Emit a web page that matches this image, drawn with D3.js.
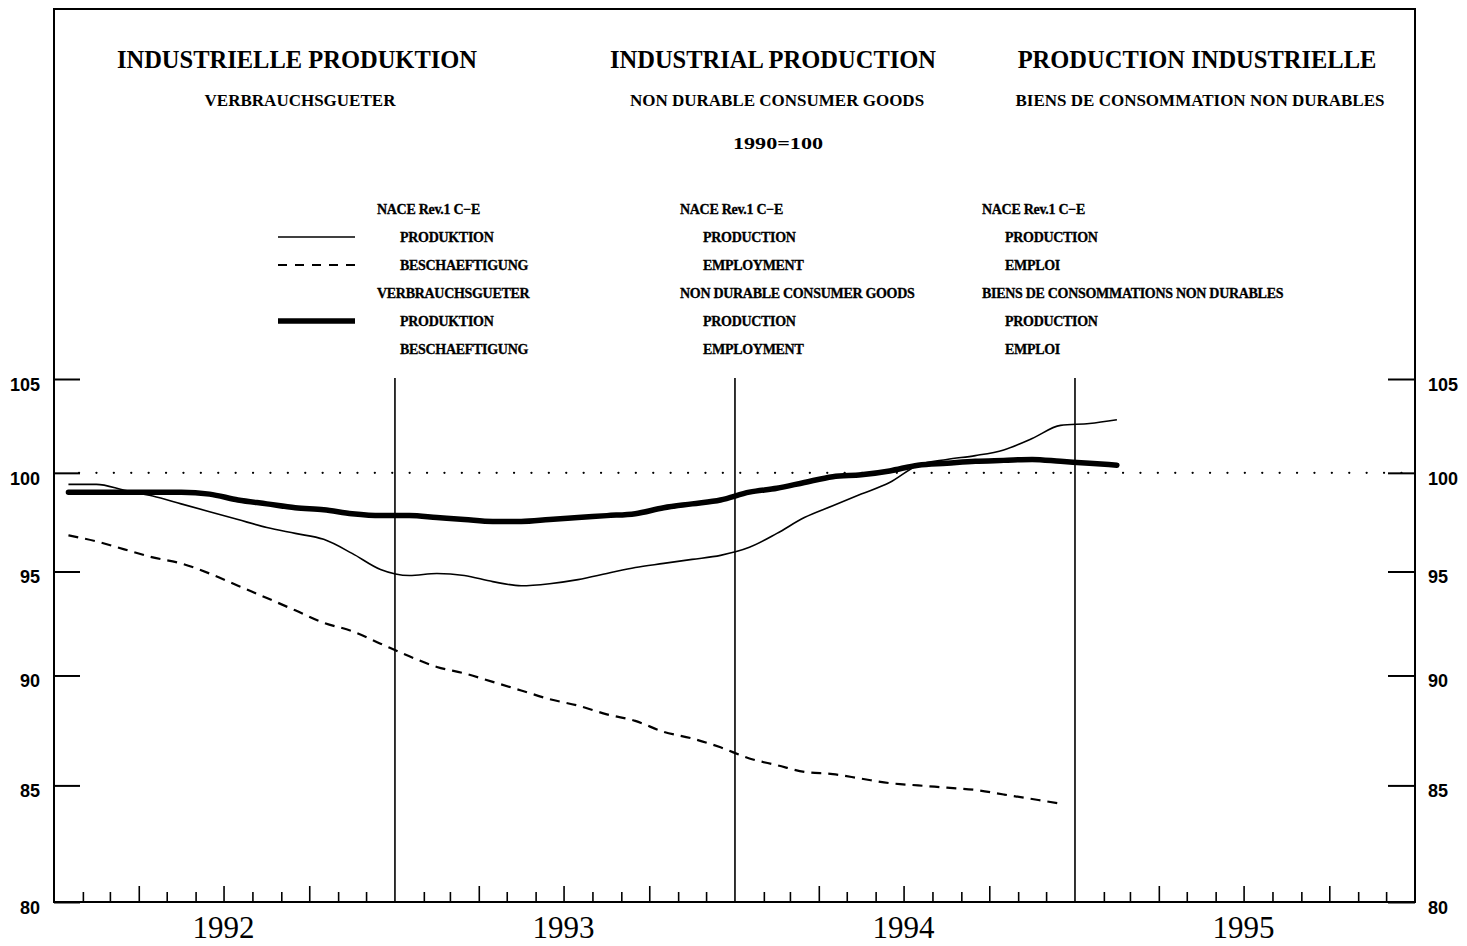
<!DOCTYPE html>
<html>
<head>
<meta charset="utf-8">
<script src="https://cdn.jsdelivr.net/npm/d3@7"></script>
<style>
  html, body { margin: 0; padding: 0; background: #fff; }
  svg { display: block; }
</style>
</head>
<body>
<svg id="chart" width="1467" height="946"></svg>
<script>
// ---------------- DATA ----------------
const startMonth = "1992-01";          // first observation (monthly data)
const years = [1992, 1993, 1994, 1995];
const yTicks = [80, 85, 90, 95, 100, 105];

// NACE Rev.1 C-E production (thin solid), Jan 1992 - Feb 1995
const naceProduction = [99.4, 99.4, 99.1, 98.8, 98.4, 98.0, 97.6, 97.2, 96.9, 96.6, 95.9, 95.1,
  94.8, 94.9, 94.8, 94.5, 94.3, 94.4, 94.6, 94.9, 95.2, 95.4, 95.6, 95.8,
  96.2, 96.9, 97.7, 98.3, 98.9, 99.5, 100.4, 100.7, 100.9, 101.2, 101.8, 102.5,
  102.6, 102.8];

// NACE Rev.1 C-E employment (dashed), Jan 1992 - Dec 1994
const naceEmployment = [96.8, 96.5, 96.1, 95.7, 95.4, 94.9, 94.3, 93.7, 93.1, 92.5, 92.1, 91.5,
  90.9, 90.4, 90.1, 89.7, 89.3, 88.9, 88.6, 88.2, 87.9, 87.4, 87.1, 86.7,
  86.2, 85.9, 85.6, 85.5, 85.3, 85.1, 85.0, 84.9, 84.8, 84.6, 84.4, 84.2];

// Non durable consumer goods production (thick solid), Jan 1992 - Feb 1995
const consumerProduction = [99.0, 99.0, 99.0, 99.0, 99.0, 98.9, 98.6, 98.4, 98.2, 98.1, 97.9, 97.8,
  97.8, 97.7, 97.6, 97.5, 97.5, 97.6, 97.7, 97.8, 97.9, 98.2, 98.4, 98.6,
  99.0, 99.2, 99.5, 99.8, 99.9, 100.1, 100.4, 100.5, 100.6, 100.65, 100.7, 100.6,
  100.5, 100.4];

const titles = ["INDUSTRIELLE PRODUKTION", "INDUSTRIAL PRODUCTION", "PRODUCTION INDUSTRIELLE"];
const subtitles = ["VERBRAUCHSGUETER", "NON DURABLE CONSUMER GOODS", "BIENS DE CONSOMMATION NON DURABLES"];
const baseLabel = "1990=100";

const legendDE = ["NACE Rev.1 C\u2212E", "PRODUKTION", "BESCHAEFTIGUNG", "VERBRAUCHSGUETER", "PRODUKTION", "BESCHAEFTIGUNG"];
const legendEN = ["NACE Rev.1 C\u2212E", "PRODUCTION", "EMPLOYMENT", "NON DURABLE CONSUMER GOODS", "PRODUCTION", "EMPLOYMENT"];
const legendFR = ["NACE Rev.1 C\u2212E", "PRODUCTION", "EMPLOI", "BIENS DE CONSOMMATIONS NON DURABLES", "PRODUCTION", "EMPLOI"];
const legendIndent = [false, true, true, false, true, true];
const legendSamples = [null, "thin", "dashed", null, "thick", null];

// ---------------- LAYOUT ----------------
const svg = d3.select("#chart");
const L = 54, R = 1415, T = 9, B = 902;

const parseM = d3.timeParse("%Y-%m");
const t0 = parseM(startMonth);
const dateAt = i => {
  const m0 = d3.timeMonth.offset(t0, i);
  const m1 = d3.timeMonth.offset(t0, i + 1);
  return new Date((m0.getTime() + m1.getTime()) / 2);
};

const x = d3.scaleTime()
  .domain([new Date(years[0], 0, 1), new Date(years[years.length - 1] + 1, 0, 1)])
  .range([L, R]);
const y = d3.scaleLog().domain([80, 105]).range([B, 379]);

const serif = "'Liberation Serif', 'DejaVu Serif', serif";
const sans = "'Liberation Sans', Arial, sans-serif";

// Frame
svg.append("rect")
  .attr("x", L).attr("y", T).attr("width", R - L).attr("height", B - T)
  .attr("fill", "none").attr("stroke", "#000").attr("stroke-width", 2);

// Titles
const titleX = [297, 773, 1197];
svg.append("g").selectAll("text").data(titles).join("text")
  .attr("x", (d, i) => titleX[i]).attr("y", 68)
  .attr("text-anchor", "middle")
  .attr("font-family", serif).attr("font-weight", "bold").attr("font-size", 24.5)
  .text(d => d);

const subX = [300, 777, 1200];
svg.append("g").selectAll("text").data(subtitles).join("text")
  .attr("x", (d, i) => subX[i]).attr("y", 106)
  .attr("text-anchor", "middle")
  .attr("font-family", serif).attr("font-weight", "bold").attr("font-size", 17)
  .text(d => d);

svg.append("text").attr("x", 778).attr("y", 149).attr("text-anchor", "middle")
  .attr("font-family", serif).attr("font-weight", "bold").attr("font-size", 17)
  .attr("textLength", 90).attr("lengthAdjust", "spacingAndGlyphs")
  .text(baseLabel);

// Legend
const legRowY = [214, 242, 270, 298, 326, 354];
const legCols = [{x: 377, data: legendDE}, {x: 680, data: legendEN}, {x: 982, data: legendFR}];
const lg = svg.append("g");
legCols.forEach(col => {
  lg.append("g").selectAll("text").data(col.data).join("text")
    .attr("x", (d, i) => col.x + (legendIndent[i] ? 23 : 0))
    .attr("y", (d, i) => legRowY[i])
    .attr("font-family", serif).attr("font-weight", "bold").attr("font-size", 14)
    .attr("letter-spacing", -0.3)
    .attr("stroke", "#000").attr("stroke-width", 0.3)
    .text(d => d);
});
legendSamples.forEach((s, i) => {
  if (!s) return;
  const ly = legRowY[i] - 5;
  const ln = lg.append("line").attr("x1", 278).attr("x2", 355).attr("y1", ly).attr("y2", ly)
    .attr("stroke", "#000");
  if (s === "thin") ln.attr("stroke-width", 1.5);
  if (s === "dashed") ln.attr("stroke-width", 2).attr("stroke-dasharray", "9,8");
  if (s === "thick") ln.attr("stroke-width", 5.5);
});

// Y axes (ticks pointing inward)
const yl = svg.append("g").attr("transform", `translate(${L},0)`)
  .call(d3.axisLeft(y).tickValues(yTicks).tickSize(-26).tickPadding(14).tickFormat(d3.format("d")));
const yr = svg.append("g").attr("transform", `translate(${R},0)`)
  .call(d3.axisRight(y).tickValues(yTicks).tickSize(-27).tickPadding(13).tickFormat(d3.format("d")));
[yl, yr].forEach(g => {
  g.select(".domain").remove();
  g.selectAll(".tick line").attr("stroke", "#000").attr("stroke-width", 2);
  g.selectAll(".tick text").attr("font-family", sans).attr("font-weight", "bold")
    .attr("font-size", 18).attr("fill", "#000").attr("dy", "0.62em");
});

// X axis: monthly ticks, taller quarter ticks
const monthTicks = d3.timeMonth.range(x.domain()[0], x.domain()[1]).filter(d => d.getMonth() !== 0);
const xa = svg.append("g").attr("transform", `translate(0,${B})`)
  .call(d3.axisBottom(x).tickValues(monthTicks).tickSize(-10).tickFormat(""));
xa.select(".domain").remove();
xa.selectAll(".tick line")
  .attr("stroke", "#000").attr("stroke-width", 1.6)
  .attr("y2", d => d.getMonth() % 3 === 0 ? -16 : -10);

// Year separator lines
const yearStarts = years.slice(1).map(yv => new Date(yv, 0, 1));
svg.append("g").selectAll("line").data(yearStarts).join("line")
  .attr("x1", d => x(d)).attr("x2", d => x(d))
  .attr("y1", y(105) - 1).attr("y2", B)
  .attr("stroke", "#000").attr("stroke-width", 1.6);

// Year labels
svg.append("g").selectAll("text").data(years).join("text")
  .attr("x", d => x(new Date(d, 6, 1)))
  .attr("y", 938)
  .attr("text-anchor", "middle")
  .attr("font-family", serif).attr("font-size", 31)
  .text(d => d);

// 100 reference dotted line
svg.append("line")
  .attr("x1", L + 25).attr("x2", R).attr("y1", y(100)).attr("y2", y(100))
  .attr("stroke", "#000").attr("stroke-width", 2.2)
  .attr("stroke-linecap", "round")
  .attr("stroke-dasharray", "0.1,17.3");

// Series
const line = d3.line().x((d, i) => x(dateAt(i))).y(d => y(d)).curve(d3.curveMonotoneX);

svg.append("path").datum(naceEmployment)
  .attr("d", line).attr("fill", "none").attr("stroke", "#000")
  .attr("stroke-width", 2.2).attr("stroke-dasharray", "10,7");

svg.append("path").datum(naceProduction)
  .attr("d", line).attr("fill", "none").attr("stroke", "#000")
  .attr("stroke-width", 1.6);

svg.append("path").datum(consumerProduction)
  .attr("d", line).attr("fill", "none").attr("stroke", "#000")
  .attr("stroke-width", 5.5).attr("stroke-linecap", "round");
</script>
</body>
</html>
